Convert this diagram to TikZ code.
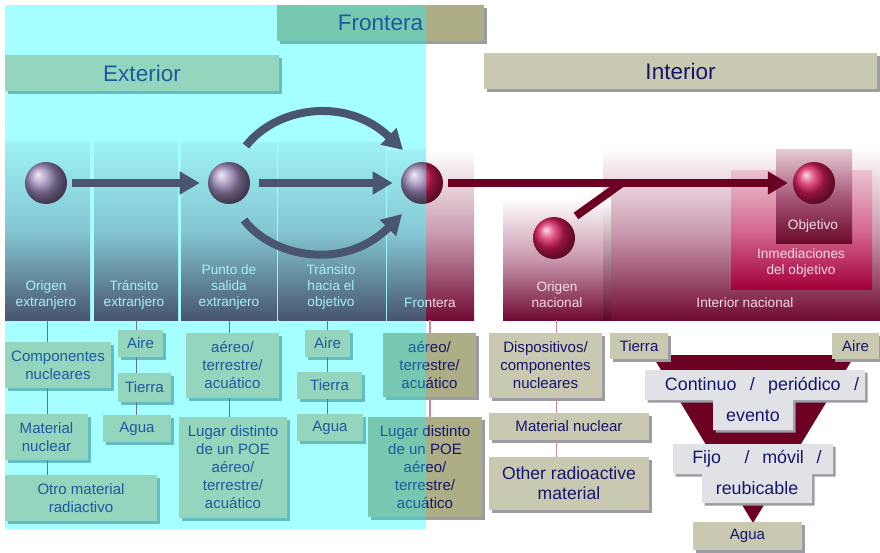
\documentclass[tikz,border=0pt]{standalone}
\usepackage{fontspec}
\setmainfont{Liberation Sans}
\usetikzlibrary{calc,shadows,arrows.meta}

\definecolor{cyanbg}{HTML}{A6FFFF}
\definecolor{tealbox}{HTML}{93D5BD}
\definecolor{tealdark}{HTML}{76C8B0}
\definecolor{tealshadow}{HTML}{62BEC2}
\definecolor{beige}{HTML}{C9C9B1}
\definecolor{olive}{HTML}{AEAE86}
\definecolor{grayshadow}{HTML}{9C9CA4}
\definecolor{lightgray}{HTML}{E1E2E5}
\definecolor{navy}{HTML}{15156E}
\definecolor{exblue}{HTML}{1E5AA0}
\definecolor{slate}{HTML}{4A5670}
\definecolor{crimson}{HTML}{6B0022}
\definecolor{coltop}{HTML}{9EF2F5}
\definecolor{colslatemid}{HTML}{84C6D2}
\definecolor{colslate}{HTML}{48556E}
\definecolor{colredmid}{HTML}{C998AE}
\definecolor{colred}{HTML}{700A32}
\definecolor{inmtop}{HTML}{EBC3D2}
\definecolor{inmmid}{HTML}{D46A92}
\definecolor{inmbot}{HTML}{A3003A}
\definecolor{objtop}{HTML}{E8CCD7}
\definecolor{objmid}{HTML}{A8587A}
\definecolor{objbot}{HTML}{6A0A2C}
\definecolor{labcyan}{HTML}{A6F0F2}
\definecolor{labpink}{HTML}{F4DAE4}
\definecolor{linkgray}{HTML}{66758C}
\definecolor{linkpink}{HTML}{C8889F}
\definecolor{sphlila}{HTML}{9A86B6}
\definecolor{sphred}{HTML}{D81A5C}

\tikzset{
  % node spanning the pixel rectangle (x1,y1)-(x2,y2)
  spanning/.style n args={4}{at={({(#1+#3)/2},{(#2+#4)/2})},
    minimum width={(#3-#1)*0.025cm},minimum height={(#4-#2)*0.025cm}},
  % title bars and shadows
  titlebar/.style={rectangle,inner sep=0pt,font=\fontsize{16}{19}\selectfont},
  lshadow/.style={drop shadow={shadow xshift=1.8pt,shadow yshift=-1.8pt,opacity=1,fill=tealshadow}},
  rshadow/.style={drop shadow={shadow xshift=1.8pt,shadow yshift=-1.8pt,opacity=1,fill=grayshadow}},
  % columns (stages) and their labels
  panel/.style={rectangle,inner sep=0pt},
  lcol/.style={panel,top color=coltop,bottom color=colslate,middle color=colslatemid},
  rcol/.style={panel,top color=white,bottom color=colred,middle color=colredmid},
  lcollabel/.style={align=center,text=labcyan,font=\fontsize{9.7}{11.4}\selectfont},
  rcollabel/.style={align=center,text=labpink,font=\fontsize{9.7}{11.4}\selectfont},
  % spheres
  lsphere/.style={circle,inner sep=0pt,minimum size=1.05cm,shading=ball,ball color=sphlila},
  rsphere/.style={circle,inner sep=0pt,minimum size=1.05cm,shading=ball,ball color=sphred},
  % thick flow arrows
  slateflow/.style={draw=slate,line width=5.7pt,-{Triangle[width=15.6pt,length=14.2pt]}},
  redflow/.style={draw=crimson,line width=5.7pt,-{Triangle[width=15.6pt,length=14.2pt]}},
  % thin links under the columns
  llink/.style={draw=linkgray,line width=0.7pt},
  rlink/.style={draw=linkpink,line width=1pt},
  % text boxes
  txtbox/.style={rectangle,inner sep=0pt,align=center,font=\fontsize{10.7}{12.8}\selectfont},
  lbox/.style={txtbox,fill=tealbox,text=exblue,lshadow},
  tbox/.style={txtbox,fill=tealdark,text=exblue,lshadow},
  obox/.style={txtbox,fill=olive,text=navy,rshadow},
  rbox/.style={txtbox,fill=beige,text=navy,rshadow},
  gshape/.style={fill=lightgray,rshadow},
  gtext/.style={text=navy,inner sep=0pt,font=\fontsize{12.7}{15}\selectfont},
}

\begin{document}
\begin{tikzpicture}[x=0.025cm,y=-0.025cm]
  \useasboundingbox (0,0) rectangle (880,552);

  % --- interior side ---
  \node[titlebar,fill=beige,text=navy,rshadow,spanning={484}{53}{877}{89}] (interior) {Interior};
  \node[titlebar,fill=olive,rshadow,spanning={277}{5}{484}{41}] (frontbar) {};

  \node[rcol,spanning={386}{150}{474}{320}] (frcol) {};
  \node[rcol,spanning={603}{148}{880}{320}] (incol) {};
  \node[rcol,spanning={503}{198}{610}{320}] (oncol) {};
  \shade[top color=white,bottom color=colred!80!black] (603,198) rectangle (611,320);
  \node[panel,top color=inmtop,bottom color=inmbot,middle color=inmmid,
    spanning={731}{170}{872}{289}] (inmcol) {};
  \node[panel,top color=objtop,bottom color=objbot,middle color=objmid,
    spanning={776}{149}{852}{243}] (objcol) {};

  \node[rcollabel] (frlab) at (430,303) {Frontera};
  \node[rcollabel] (onlab) at (557,295) {Origen\\nacional};
  \node[rcollabel] (inlab) at (745,303) {Interior nacional};
  \node[rcollabel] (inmlab) at (801,263) {Inmediaciones\\del objetivo};
  \node[rcollabel] (objlab) at (813,226) {Objetivo};

  \node[rsphere] (fr) at (422,183) {};
  \node[rsphere] (on) at (554,238) {};
  \node[rsphere] (obj) at (814,183) {};
  \draw[redflow,shorten <=3.5pt,shorten >=3.5pt] (fr) -- (obj);
  \draw[draw=crimson,line width=5.7pt] ($(on)+(22,-22)$) -- ($(on)+(68,-55)$);

  \node[obox,spanning={383}{333}{476}{397}] (medfr) {aéreo/\\terrestre/\\acuático};
  \node[obox,spanning={368}{417}{482}{517}] (lugarfr) {Lugar distinto\\de un POE\\aéreo/\\terrestre/\\acuático};
  \draw[rlink] (frcol.south) -- (frcol.south |- medfr.north);
  \draw[rlink] (frcol.south |- medfr.south) -- (frcol.south |- lugarfr.north);

  \node[rbox,spanning={489}{333}{602}{398}] (dispo) {Dispositivos/\\componentes\\nucleares};
  \node[rbox,spanning={489}{413}{649}{440}] (matnucin) {Material nuclear};
  \node[rbox,spanning={489}{457}{649}{510},font=\fontsize{12.5}{14.2}\selectfont] (otherrad) {Other radioactive\\material};
  \draw[rlink] (oncol.south) -- (oncol.south |- dispo.north);
  \draw[rlink] (oncol.south |- dispo.south) -- (oncol.south |- matnucin.north);
  \draw[rlink] (oncol.south |- matnucin.south) -- (oncol.south |- otherrad.north);

  % funnel
  \fill[crimson] (652,355) -- (855,355) -- (753,523) -- cycle;
  \path[gshape] (645,370) -- (865,370) -- (865,400) -- (793,400) -- (793,430)
    -- (713,430) -- (713,400) -- (645,400) -- cycle;
  \path[gshape] (673,444) -- (833,444) -- (833,474) -- (812,474) -- (812,503)
    -- (702,503) -- (702,474) -- (673,474) -- cycle;
  \node[gtext] (cont) at (762,386) {\makebox[138pt][s]{Continuo / periódico /}};
  \node[gtext] (evento) at (753,416) {evento};
  \node[gtext] (fijo) at (757,459) {\makebox[92pt][s]{Fijo\hspace{0.6em} / móvil /}};
  \node[gtext] (reubic) at (757,488) {reubicable};
  \node[rbox,spanning={610}{333}{668}{359}] (tierrain) {Tierra};
  \node[rbox,spanning={832}{333}{879}{359}] (airein) {Aire};
  \node[rbox,spanning={693}{522}{802}{550}] (aguain) {Agua};

  % --- exterior side, under the cyan band ---
  \begin{scope}
    \clip (5,5) rectangle (426,529);
    \fill[cyanbg] (5,5) rectangle (426,529);
    \node[titlebar,fill=tealbox,text=exblue,lshadow,spanning={5}{55}{279}{91}] (exterior) {Exterior};
    \node[titlebar,fill=tealdark,text=exblue,lshadow,spanning={277}{5}{484}{41}] (frontbar) {Frontera};

    \node[lcol,spanning={5}{142}{90}{320}] (oecol) {};
    \node[lcol,spanning={94}{142}{178}{320}] (tecol) {};
    \node[lcol,spanning={181}{142}{277}{320}] (pscol) {};
    \node[lcol,spanning={278.5}{142}{386}{320}] (thcol) {};
    \node[lcol,spanning={387}{150}{474}{320}] (frcol) {};

    \node[lcollabel] (oelab) at (46,295) {Origen\\extranjero};
    \node[lcollabel] (telab) at (134,295) {Tránsito\\extranjero};
    \node[lcollabel] (pslab) at (229,287) {Punto de\\salida\\extranjero};
    \node[lcollabel] (thlab) at (331,287) {Tránsito\\hacia el\\objetivo};
    \node[lcollabel] (frlab) at (430,303) {Frontera};

    \node[lsphere] (oe) at (46,183) {};
    \node[lsphere] (pse) at (229,183) {};
    \node[lsphere] (fr) at (422,183) {};
    \draw[slateflow,shorten <=3.6pt,shorten >=5.7pt] (oe) -- (pse);
    \draw[slateflow,shorten <=6.4pt,shorten >=5.7pt] (pse) -- (fr);
    \draw[slateflow] ($(pse)+(17,-37)$) .. controls (275,108) and (345,95) .. ($(fr)+(-19,-33)$);
    \draw[slateflow] ($(pse)+(15,37)$) .. controls (273,258) and (345,271) .. ($(fr)+(-20,31)$);

    \node[lbox,spanning={5}{342}{111}{388}] (compnuc) {Componentes\\nucleares};
    \node[lbox,spanning={5}{414}{88}{460}] (matnuc) {Material\\nuclear};
    \node[lbox,spanning={5}{475}{157}{521}] (otromat) {Otro material\\radiactivo};
    \draw[llink] (oecol.south) -- (oecol.south |- compnuc.north);
    \draw[llink] (oecol.south |- compnuc.south) -- (oecol.south |- matnuc.north);
    \draw[llink] (oecol.south |- matnuc.south) -- (oecol.south |- otromat.north);

    \node[lbox,spanning={118}{330}{163}{357}] (aireex) {Aire};
    \node[lbox,spanning={118}{373}{171}{402}] (tierraex) {Tierra};
    \node[lbox,spanning={103}{415}{171}{442}] (aguaex) {Agua};
    \draw[llink] (tecol.south) -- (tecol.south |- aireex.north);
    \draw[llink] (tecol.south |- aireex.south) -- (tecol.south |- tierraex.north);
    \draw[llink] (tecol.south |- tierraex.south) -- (tecol.south |- aguaex.north);

    \node[lbox,spanning={186}{333}{279}{398}] (medps) {aéreo/\\terrestre/\\acuático};
    \node[lbox,spanning={179}{417}{287}{518}] (lugarps) {Lugar distinto\\de un POE\\aéreo/\\terrestre/\\acuático};
    \draw[llink] (pscol.south) -- (pscol.south |- medps.north);
    \draw[llink] (pscol.south |- medps.south) -- (pscol.south |- lugarps.north);

    \node[lbox,spanning={305}{330}{350}{357}] (aireth) {Aire};
    \node[lbox,spanning={297}{372}{362}{399}] (tierrath) {Tierra};
    \node[lbox,spanning={297}{414}{363}{441}] (aguath) {Agua};
    \draw[llink] (aireth.north |- thcol.south) -- (aireth.north);
    \draw[llink] (aireth.south) -- (aireth.south |- tierrath.north);
    \draw[llink] (aireth.south |- tierrath.south) -- (aireth.south |- aguath.north);

    \node[tbox,spanning={383}{333}{476}{397}] (medfr) {aéreo/\\terrestre/\\acuático};
    \node[tbox,spanning={368}{417}{482}{517}] (lugarfr) {Lugar distinto\\de un POE\\aéreo/\\terrestre/\\acuático};
  \end{scope}
\end{tikzpicture}
\end{document}
